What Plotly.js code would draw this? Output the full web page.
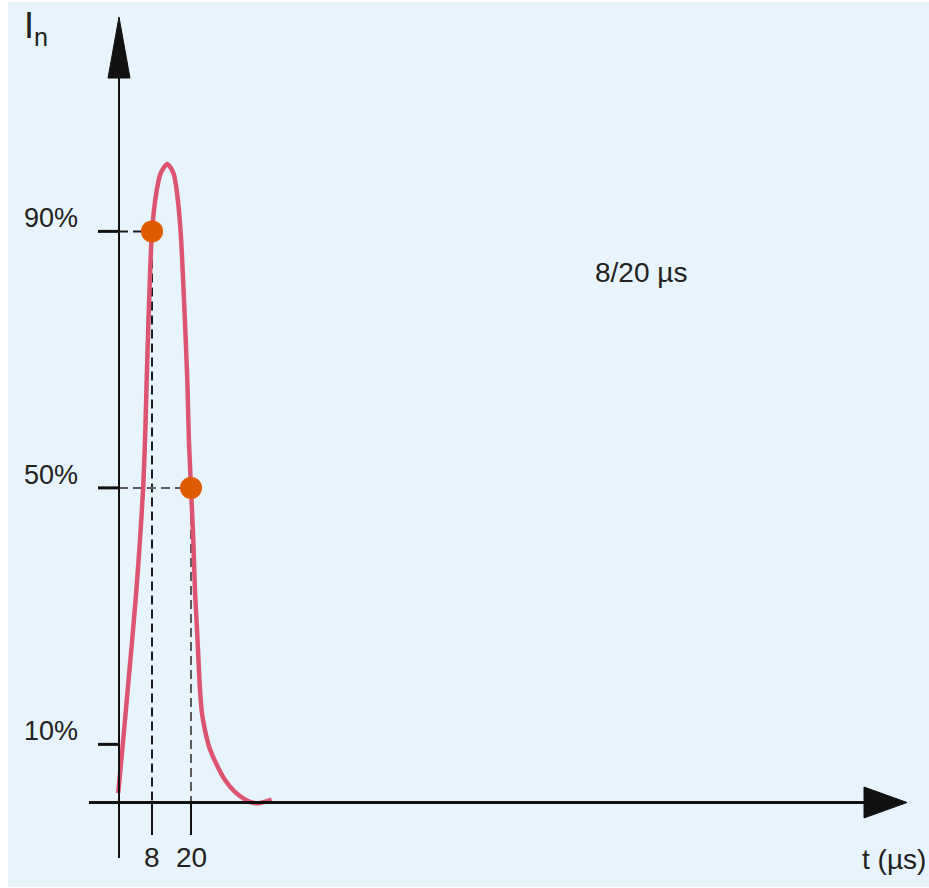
<!DOCTYPE html>
<html>
<head>
<meta charset="utf-8">
<script src="https://cdn.plot.ly/plotly-3.0.1.min.js"></script>
<style>html,body{margin:0;padding:0;background:#fff;}#chart{width:929px;height:888px;}</style>
</head>
<body>
<div id="chart"></div>
<script>
// ---- data ----
const timeUs = [-2.4, -0.95, 0.52, 1.9, 3.2, 4.3, 5.3, 5.95, 6.45, 7.3, 8.0, 9.45, 10.7, 12.7, 14.6, 15.6, 16.8, 17.85, 18.86, 19.35, 20.0, 20.7, 21.23, 21.75, 22.25, 22.77, 23.38, 24.3, 25.6, 27.7, 30.46, 33.5, 37.1, 40.2, 44.8];
const currentPct = [2.4, 10.2, 18.5, 26.3, 34.1, 41.9, 50.2, 59.0, 68.4, 82.0, 90.0, 96.4, 99.1, 100.5, 99.1, 96.4, 90.0, 79.3, 66.8, 57.5, 50.0, 41.9, 33.8, 28.9, 23.7, 18.5, 14.85, 12.2, 9.6, 7.05, 4.44, 2.6, 1.3, 0.8, 1.4];
const markerT = [8, 20];
const markerPct = [90, 50];
const xTickVals = [8, 20];
const xTickText = ["8", "20"];
const yTickVals = [10, 50, 90];
const yTickText = ["10%", "50%", "90%"];
const waveLabel = "8/20 µs";
const xTitle = "t (µs)";
const yTitle = "I<sub>n</sub>";

// ---- pixel calibration helpers (layout only) ----
const X0PX = 126, XS = 3.25;       // px = X0PX + XS * t
const Y0PX = 808.5, YS = 6.4125;   // px = Y0PX - YS * y
const tx = p => (p - X0PX) / XS;
const vy = p => (Y0PX - p) / YS;
const ypx = v => Y0PX - YS * v;
const AXIS_T = tx(119);
const AXIS_Y = vy(802.5);

const black = '#111111';
const shapes = [];
// y axis line + arrow
shapes.push({type:'line', xref:'x', yref:'y', x0:AXIS_T, x1:AXIS_T, y0:vy(858), y1:vy(76), line:{color:black, width:2}});
shapes.push({type:'path', xref:'x', yref:'y', path:`M ${tx(108)},${vy(78)} L ${tx(119)},${vy(17)} L ${tx(130)},${vy(78)} Z`, fillcolor:black, line:{color:black, width:1}});
// x axis line + arrow
shapes.push({type:'line', xref:'x', yref:'y', x0:tx(89), x1:tx(866), y0:AXIS_Y, y1:AXIS_Y, line:{color:black, width:3}});
shapes.push({type:'path', xref:'x', yref:'y', path:`M ${tx(864)},${vy(787)} L ${tx(907)},${vy(802.5)} L ${tx(864)},${vy(818)} Z`, fillcolor:black, line:{color:black, width:1}});
// y ticks
yTickVals.forEach(v => shapes.push({type:'line', xref:'x', yref:'y', x0:tx(98), x1:AXIS_T, y0:v, y1:v, line:{color:black, width:3}}));
// x ticks
xTickVals.forEach(v => shapes.push({type:'line', xref:'x', yref:'y', x0:v, x1:v, y0:AXIS_Y, y1:vy(835), line:{color:black, width:2}}));
// dashed guides
const guideColors = ['#1c1c1c', '#5a5a5a'];
markerT.forEach((t, i) => {
  const c = guideColors[i];
  shapes.push({type:'line', layer:'below', xref:'x', yref:'y', x0:t, x1:t, y0:markerPct[i], y1:AXIS_Y, line:{color:c, width:2, dash:'9px,5px'}});
  shapes.push({type:'line', layer:'below', xref:'x', yref:'y', x0:AXIS_T, x1:t, y0:markerPct[i], y1:markerPct[i], line:{color:c, width:2, dash:'9px,5px'}});
});

const regular = 'Liberation Sans, Arial, sans-serif';
const txtColor = '#222222';
const annotations = [];
yTickVals.forEach((v, i) => annotations.push({xref:'x', yref:'y', x:tx(51), y:vy(ypx(v) - 13), text:yTickText[i], showarrow:false, xanchor:'center', yanchor:'middle', font:{family:regular, size:27, color:txtColor}}));
xTickVals.forEach((v, i) => annotations.push({xref:'x', yref:'y', x:v, y:vy(857), text:xTickText[i], showarrow:false, xanchor:'center', yanchor:'middle', font:{family:regular, size:28, color:txtColor}}));
annotations.push({xref:'x', yref:'y', x:tx(894), y:vy(859), text:xTitle, showarrow:false, xanchor:'center', yanchor:'middle', font:{family:regular, size:28, color:txtColor}});
annotations.push({xref:'x', yref:'y', x:tx(641), y:vy(272), text:waveLabel, showarrow:false, xanchor:'center', yanchor:'middle', font:{family:regular, size:28, color:txtColor}});
annotations.push({xref:'x', yref:'y', x:tx(22), y:vy(28), text:yTitle, showarrow:false, xanchor:'left', yanchor:'middle', font:{family:regular, size:36, color:txtColor}});

const traces = [
  {type:'scatter', mode:'lines', x:timeUs, y:currentPct, line:{color:'#dc5470', width:4.5, shape:'spline', smoothing:0.7}, hoverinfo:'skip'},
  {type:'scatter', mode:'markers', x:markerT, y:markerPct, marker:{color:'#e05a00', size:22, line:{width:0}}, hoverinfo:'skip'}
];

const layout = {
  width:929, height:888,
  margin:{l:8, r:0, t:2, b:1, pad:0},
  paper_bgcolor:'#ffffff',
  plot_bgcolor:'#e7f4fb',
  showlegend:false,
  xaxis:{range:[tx(8), tx(929)], visible:false, fixedrange:true},
  yaxis:{range:[vy(887), vy(2)], visible:false, fixedrange:true},
  shapes:shapes,
  annotations:annotations
};
Plotly.newPlot('chart', traces, layout, {displayModeBar:false, staticPlot:true});
</script>
</body>
</html>
